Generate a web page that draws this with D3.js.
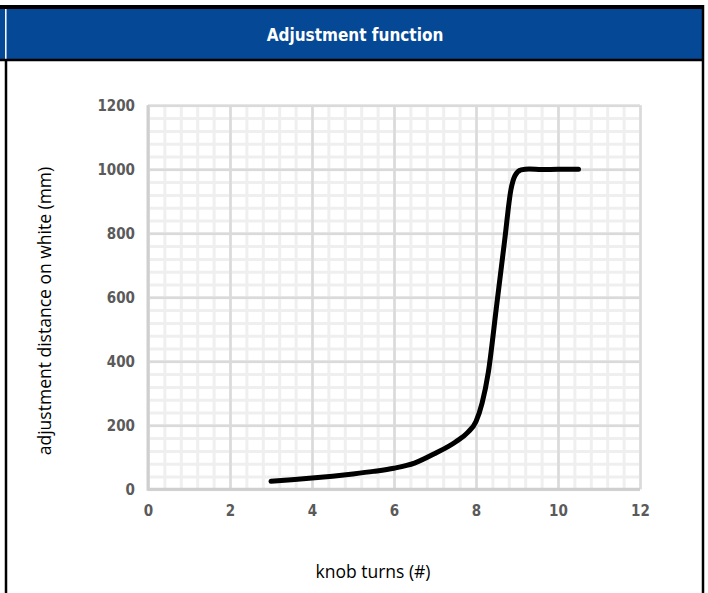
<!DOCTYPE html>
<html>
<head>
<meta charset="utf-8">
<script src="https://cdn.jsdelivr.net/npm/d3@7"></script>
<style>
  body { margin: 0; background: #fff; }
  .tick text { font-family: "DejaVu Sans Condensed", "DejaVu Sans", sans-serif; font-weight: bold; fill: #5a5a5a; }
</style>
</head>
<body>
<div id="chart"></div>
<script>
// curve
const turns    = [3, 3.5, 4, 4.5, 5, 5.5, 6, 6.5, 7, 7.5, 7.8, 8, 8.15, 8.3, 8.5, 8.7, 8.85, 8.95, 9.1, 9.3, 9.6, 10, 10.5]
const distance = [25, 30, 35, 41, 48, 56, 66, 82, 112, 148, 178, 212, 270, 365, 571, 779, 935, 980, 998, 1001, 999, 1000, 1000]

const xTicks = [0, 2, 4, 6, 8, 10, 12]
const yTicks = [0, 200, 400, 600, 800, 1000, 1200]
const title = "Adjustment function"
const xTitle = "knob turns (#)"
const yTitle = "adjustment distance on white (mm)"

let width = 708
let height = 593

let svg = d3.select("#chart").append("svg")
  .attr("width", width)
  .attr("height", height)

// frame + header
svg.append("rect")
  .attr("x", 0).attr("y", 9)
  .attr("width", 702).attr("height", 50)
  .attr("fill", "#054996")
svg.append("line")
  .attr("x1", 5.8).attr("x2", 5.8).attr("y1", 9).attr("y2", 59)
  .attr("stroke", "#fff").attr("stroke-width", 1.5)
svg.append("line")
  .attr("x1", 0).attr("x2", 704).attr("y1", 7).attr("y2", 7)
  .attr("stroke", "#000").attr("stroke-width", 4)
svg.append("line")
  .attr("x1", 0).attr("x2", 704).attr("y1", 60).attr("y2", 60)
  .attr("stroke", "#000").attr("stroke-width", 2.5)
svg.append("line")
  .attr("x1", 6).attr("x2", 6).attr("y1", 60).attr("y2", height)
  .attr("stroke", "#000").attr("stroke-width", 2.5)
svg.append("line")
  .attr("x1", 703).attr("x2", 703).attr("y1", 5).attr("y2", height)
  .attr("stroke", "#000").attr("stroke-width", 2.5)

svg.append("text")
  .attr("x", 355).attr("y", 41)
  .attr("text-anchor", "middle")
  .attr("fill", "#fff")
  .style("font-family", "'DejaVu Sans Condensed', 'DejaVu Sans', sans-serif")
  .style("font-weight", "bold")
  .style("font-size", "17px")
  .text(title)

// plot area
let x = d3.scaleLinear().domain([0, 12]).range([148, 640])
let y = d3.scaleLinear().domain([0, 1200]).range([489.3, 105.3])

let xMinor = d3.range(0, 12.01, 0.4).map(v => +v.toFixed(1))
let yMinor = d3.range(0, 1201, 40)

let grid = svg.append("g")

grid.append("g")
  .attr("transform", `translate(0,${y(0)})`)
  .call(d3.axisBottom(x).tickValues(xMinor).tickSize(y(1200) - y(0)).tickFormat(""))
  .call(g => g.select(".domain").remove())
  .selectAll("line").attr("stroke", "#efefef").attr("stroke-width", 3)

grid.append("g")
  .attr("transform", `translate(${x(0)},0)`)
  .call(d3.axisLeft(y).tickValues(yMinor).tickSize(x(0) - x(12)).tickFormat(""))
  .call(g => g.select(".domain").remove())
  .selectAll("line").attr("stroke", "#efefef").attr("stroke-width", 3)

grid.append("g")
  .attr("transform", `translate(0,${y(0)})`)
  .call(d3.axisBottom(x).tickValues(xTicks).tickSize(y(1200) - y(0)).tickFormat(""))
  .call(g => g.select(".domain").remove())
  .selectAll("line").attr("stroke", "#dadada").attr("stroke-width", 2.5)

grid.append("g")
  .attr("transform", `translate(${x(0)},0)`)
  .call(d3.axisLeft(y).tickValues(yTicks).tickSize(x(0) - x(12)).tickFormat(""))
  .call(g => g.select(".domain").remove())
  .selectAll("line").attr("stroke", "#dadada").attr("stroke-width", 2.5)

// axis lines
svg.append("line")
  .attr("x1", x(0)).attr("x2", x(12)).attr("y1", y(0)).attr("y2", y(0))
  .attr("stroke", "#cfcfcf").attr("stroke-width", 3)
svg.append("line")
  .attr("x1", x(0)).attr("x2", x(0)).attr("y1", y(0) + 1.5).attr("y2", y(1200))
  .attr("stroke", "#cfcfcf").attr("stroke-width", 3)

// tick labels
svg.append("g")
  .attr("transform", `translate(0,${y(0)})`)
  .call(d3.axisBottom(x).tickValues(xTicks).tickSize(0).tickPadding(16).tickFormat(d3.format("d")))
  .call(g => g.select(".domain").remove())
  .selectAll("text").style("font-size", "15px")

svg.append("g")
  .attr("transform", `translate(${x(0)},0)`)
  .call(d3.axisLeft(y).tickValues(yTicks).tickSize(0).tickPadding(13).tickFormat(d3.format("d")))
  .call(g => g.select(".domain").remove())
  .selectAll("text").style("font-size", "15px")

// curve
let line = d3.line()
  .x((d, i) => x(turns[i]))
  .y(d => y(d))
  .curve(d3.curveMonotoneX)

svg.append("path")
  .datum(distance)
  .attr("d", line)
  .attr("fill", "none")
  .attr("stroke", "#000")
  .attr("stroke-width", 5)
  .attr("stroke-linecap", "round")
  .attr("stroke-linejoin", "round")

// axis titles
svg.append("text")
  .attr("x", 373).attr("y", 578)
  .attr("text-anchor", "middle")
  .style("font-family", "'Open Sans', sans-serif")
  .style("font-size", "17.5px")
  .text(xTitle)

svg.append("text")
  .attr("transform", "translate(51,311) rotate(-90)")
  .attr("text-anchor", "middle")
  .style("font-family", "'Open Sans', sans-serif")
  .style("font-size", "17.5px")
  .text(yTitle)
</script>
</body>
</html>
